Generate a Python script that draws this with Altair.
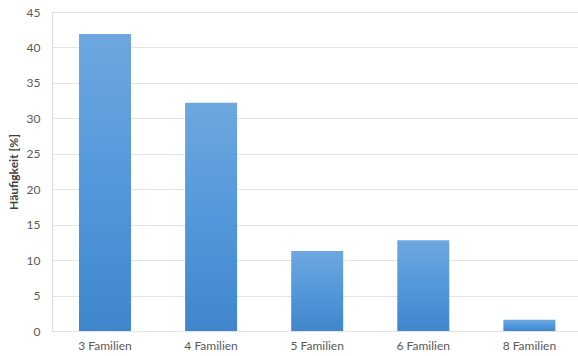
import altair as alt
import pandas as pd

# Anteil der Betriebe nach Anzahl der beteiligten Familien
kategorien = ["3 Familien", "4 Familien", "5 Familien", "6 Familien", "8 Familien"]
haeufigkeit = [41.9, 32.2, 11.3, 12.8, 1.6]

df = pd.DataFrame({"kategorie": kategorien, "wert": haeufigkeit})

blau = alt.Gradient(
    gradient="linear",
    x1=0, x2=0, y1=0, y2=1,
    stops=[
        alt.GradientStop(color="#6ea7e0", offset=0),
        alt.GradientStop(color="#5398da", offset=0.5),
        alt.GradientStop(color="#3f86cc", offset=1),
    ],
)

chart = (
    alt.Chart(df)
    .mark_bar(color=blau)
    .encode(
        x=alt.X(
            "kategorie:N",
            sort=kategorien,
            title=None,
            scale=alt.Scale(paddingInner=0.51, paddingOuter=0.234, align=0.544),
            axis=alt.Axis(
                labelAngle=0,
                labelFont="Lato",
                labelFontSize=12,
                labelColor="#595959",
                labelPadding=9,
                ticks=False,
                domain=False,
            ),
        ),
        y=alt.Y(
            "wert:Q",
            title="Häufigkeit [%]",
            scale=alt.Scale(domain=[0, 45], nice=False),
            axis=alt.Axis(
                values=list(range(0, 50, 5)),
                labelFont="Lato",
                labelFontSize=12,
                labelColor="#595959",
                labelPadding=12,
                ticks=False,
                domain=False,
                gridColor="#e3e3e3",
                gridWidth=1,
                titleFont="Lato",
                titleFontSize=12,
                titleFontWeight="bold",
                titleColor="#404040",
                titlePadding=6,
            ),
        ),
    )
    .properties(
        width=526,
        height=319,
        autosize=alt.AutoSizeParams(type="none"),
        padding={"left": 52, "top": 12, "right": 0, "bottom": 25},
    )
    .configure_view(stroke=None)
    .configure(background="white")
)

chart.save("out.html", embed_options={"renderer": "svg", "actions": False})
